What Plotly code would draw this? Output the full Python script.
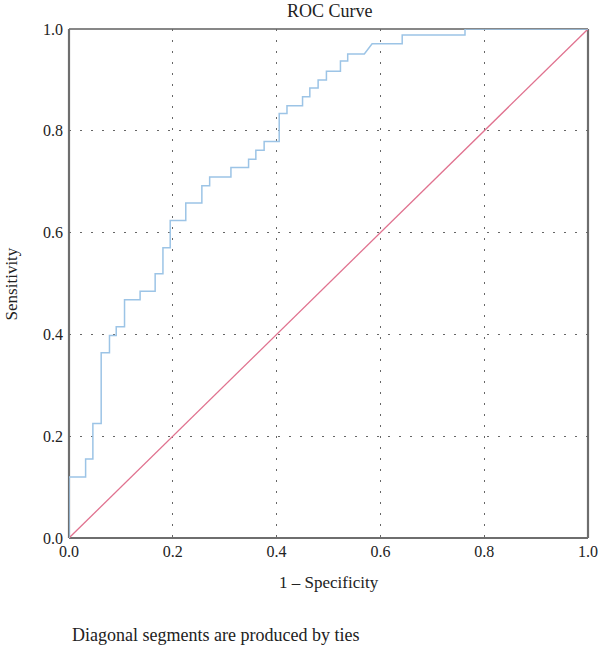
import plotly.graph_objects as go

# ROC curve vertices (1 - specificity, sensitivity)
fpr = [0.000, 0.000, 0.032, 0.032, 0.046, 0.046, 0.062, 0.062, 0.078, 0.078,
       0.091, 0.091, 0.107, 0.107, 0.137, 0.137, 0.166, 0.166, 0.181, 0.181,
       0.195, 0.195, 0.225, 0.225, 0.256, 0.256, 0.271, 0.271, 0.312, 0.312,
       0.346, 0.346, 0.360, 0.360, 0.376, 0.376, 0.405, 0.405, 0.420, 0.420,
       0.450, 0.450, 0.464, 0.464, 0.480, 0.480, 0.496, 0.496, 0.523, 0.523,
       0.537, 0.537, 0.569, 0.584, 0.642, 0.642, 0.763, 0.763, 1.000]
tpr = [0.000, 0.120, 0.120, 0.155, 0.155, 0.225, 0.225, 0.364, 0.364, 0.398,
       0.398, 0.415, 0.415, 0.468, 0.468, 0.485, 0.485, 0.519, 0.519, 0.570,
       0.570, 0.624, 0.624, 0.658, 0.658, 0.692, 0.692, 0.709, 0.709, 0.728,
       0.728, 0.744, 0.744, 0.762, 0.762, 0.779, 0.779, 0.834, 0.834, 0.849,
       0.849, 0.867, 0.867, 0.884, 0.884, 0.900, 0.900, 0.917, 0.917, 0.937,
       0.937, 0.951, 0.951, 0.971, 0.971, 0.988, 0.988, 1.000, 1.000]

ref_x = [0.0, 1.0]
ref_y = [0.0, 1.0]

tick_vals = [0.0, 0.2, 0.4, 0.6, 0.8, 1.0]
tick_text = ["0.0", "0.2", "0.4", "0.6", "0.8", "1.0"]

FONT = "Liberation Serif"
TXT = "#222222"

fig = go.Figure()
fig.add_trace(go.Scatter(x=ref_x, y=ref_y, mode="lines",
                         line=dict(color="#e0728f", width=1.3),
                         cliponaxis=False, showlegend=False, hoverinfo="skip"))
fig.add_trace(go.Scatter(x=fpr, y=tpr, mode="lines",
                         line=dict(color="#9cc4e6", width=1.5),
                         cliponaxis=False, showlegend=False))

grid_style = dict(showgrid=True, gridcolor="#666666", gridwidth=1.4,
                  griddash="1.5px,9.5px", zeroline=False, showline=False,
                  ticks="", range=[0, 1], automargin=False,
                  tickvals=tick_vals, ticktext=tick_text,
                  tickfont=dict(family=FONT, size=16, color=TXT))

fig.update_xaxes(**grid_style, ticklabelstandoff=2)
fig.update_yaxes(**grid_style, ticklabelstandoff=5)

shapes = [
    dict(type="line", xref="paper", yref="paper", x0=0, x1=1, y0=1, y1=1,
         line=dict(color="#111111", width=1.2), layer="below"),
    dict(type="line", xref="paper", yref="paper", x0=0, x1=0, y0=0, y1=1,
         line=dict(color="#6e6e6e", width=2.2), layer="below"),
    dict(type="line", xref="paper", yref="paper", x0=0, x1=1, y0=0, y1=0,
         line=dict(color="#6e6e6e", width=2.2), layer="below"),
    dict(type="line", xref="paper", yref="paper", x0=1, x1=1, y0=0, y1=1,
         line=dict(color="#6e6e6e", width=2.2), layer="below"),
]

annotations = [
    dict(text="ROC Curve", xref="paper", yref="paper", x=0.503, y=1.035,
         xanchor="center", yanchor="middle", showarrow=False,
         font=dict(family=FONT, size=18, color=TXT)),
    dict(text="1 – Specificity", xref="paper", yref="paper", x=0.50, y=-0.0884,
         xanchor="center", yanchor="middle", showarrow=False,
         font=dict(family=FONT, size=17, color=TXT)),
    dict(text="Sensitivity", xref="paper", yref="paper", x=-0.110, y=0.50,
         xanchor="center", yanchor="middle", showarrow=False, textangle=-90,
         font=dict(family=FONT, size=17, color=TXT)),
    dict(text="Diagonal segments are produced by ties",
         xref="paper", yref="paper", x=0.002, y=-0.1906,
         xanchor="left", yanchor="middle", showarrow=False,
         font=dict(family=FONT, size=18, color=TXT)),
]

fig.update_layout(
    width=600, height=650,
    margin=dict(l=69, r=12, t=29, b=112),
    paper_bgcolor="white", plot_bgcolor="white",
    shapes=shapes,
    annotations=annotations,
    font=dict(family=FONT),
)

fig.write_html("out.html")
